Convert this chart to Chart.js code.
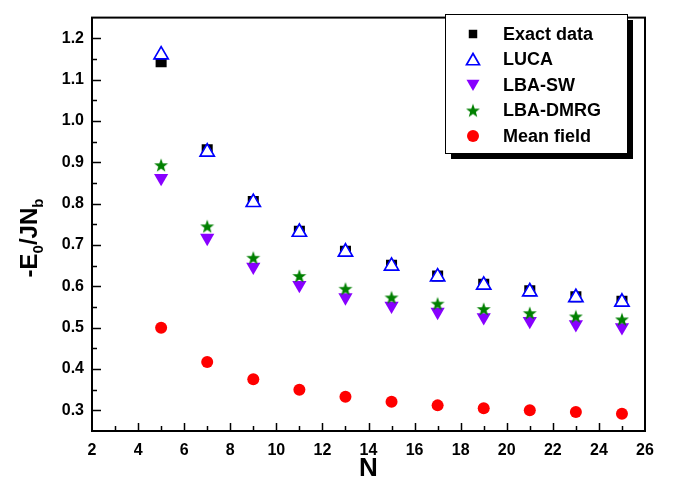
<!DOCTYPE html>
<html>
<head>
<meta charset="utf-8">
<script src="https://cdn.jsdelivr.net/npm/chart.js@4/dist/chart.umd.min.js"></script>
<style>
  html, body { margin: 0; padding: 0; background: #fff; }
  #wrap { width: 679px; height: 489px; }
</style>
</head>
<body>
<div id="wrap"><canvas id="c" width="679" height="489"></canvas></div>
<script>
const nValues = [5, 7, 9, 11, 13, 15, 17, 19, 21, 23, 25];
const exactData = [1.143, 0.930, 0.805, 0.733, 0.685, 0.651, 0.625, 0.605, 0.589, 0.575, 0.564];
const lucaData = [1.160, 0.925, 0.803, 0.731, 0.683, 0.649, 0.623, 0.603, 0.587, 0.573, 0.562];
const lbaSwData = [0.862, 0.717, 0.647, 0.603, 0.573, 0.553, 0.538, 0.525, 0.516, 0.508, 0.501];
const lbaDmrgData = [0.893, 0.745, 0.669, 0.625, 0.594, 0.573, 0.558, 0.545, 0.535, 0.527, 0.520];
const meanFieldData = [0.500, 0.417, 0.375, 0.350, 0.333, 0.321, 0.312, 0.305, 0.300, 0.296, 0.292];
const seriesNames = ["Exact data", "LUCA", "LBA-SW", "LBA-DMRG", "Mean field"];
const xTicks = [2, 4, 6, 8, 10, 12, 14, 16, 18, 20, 22, 24, 26];
const yTicks = [0.3, 0.4, 0.5, 0.6, 0.7, 0.8, 0.9, 1.0, 1.1, 1.2];

const FONT = "'Liberation Sans', Arial, sans-serif";

// filled five-point star, chart.js only has the line version
function makeStar(color) {
    const cv = document.createElement("canvas");
    cv.width = 16; cv.height = 16;
    const g = cv.getContext("2d");
    g.fillStyle = color;
    g.beginPath();
    for (let i = 0; i < 10; i++) {
        const r = i % 2 === 0 ? 7.3 : 3.0;
        const a = -Math.PI / 2 + i * Math.PI / 5;
        const px = 8 + r * Math.cos(a), py = 8.6 + r * Math.sin(a);
        if (i === 0) g.moveTo(px, py); else g.lineTo(px, py);
    }
    g.closePath();
    g.fill();
    return cv;
}
const starImg = makeStar("#008000");

function pts(ys) {
    return nValues.map((n, i) => ({ x: n, y: ys[i] }));
}

const datasets = [
    { label: seriesNames[0], data: pts(exactData), pointStyle: "rect", pointRadius: 7.8,
      backgroundColor: "#000", borderColor: "#000", borderWidth: 0, order: 5 },
    { label: seriesNames[1], data: pts(lucaData), pointStyle: "triangle", pointRadius: 8.2,
      backgroundColor: "#fff", borderColor: "#0000ff", borderWidth: 1.7, order: 4 },
    { label: seriesNames[2], data: pts(lbaSwData), pointStyle: "triangle", pointRadius: 8.2, rotation: 180,
      backgroundColor: "#8800ff", borderColor: "#8800ff", borderWidth: 0, order: 3 },
    { label: seriesNames[3], data: pts(lbaDmrgData), pointStyle: starImg, pointRadius: 8,
      backgroundColor: "#008000", borderColor: "#008000", order: 2 },
    { label: seriesNames[4], data: pts(meanFieldData), pointStyle: "circle", pointRadius: 6,
      backgroundColor: "#ff0000", borderColor: "#ff0000", borderWidth: 0, order: 1 }
];
datasets.forEach(d => { d.showLine = false; d.pointHoverRadius = d.pointRadius; });

const framePlugin = {
    id: "frame",
    afterDraw(chart) {
        const ctx = chart.ctx;
        const a = chart.chartArea;
        const xs = chart.scales.x, ys = chart.scales.y;
        ctx.save();
        ctx.strokeStyle = "#000";
        // inward ticks, bottom and left only
        ctx.lineWidth = 1.5;
        ctx.beginPath();
        for (let v = 3; v <= 25; v++) {
            const px = Math.round(xs.getPixelForValue(v)) + 0.5;
            const len = v % 2 === 0 ? 8 : 5;
            ctx.moveTo(px, a.bottom); ctx.lineTo(px, a.bottom - len);
        }
        for (let k = 6; k <= 24; k++) {
            const v = k * 0.05;
            const py = Math.round(ys.getPixelForValue(v)) + 0.5;
            const len = k % 2 === 0 ? 9 : 5;
            ctx.moveTo(a.left, py); ctx.lineTo(a.left + len, py);
        }
        ctx.stroke();
        ctx.lineWidth = 2;
        ctx.strokeRect(a.left, a.top, a.right - a.left, a.bottom - a.top);

        // legend with drop shadow
        const bx = 445, by = 14, bw = 182, bh = 139;
        ctx.fillStyle = "#000";
        ctx.fillRect(bx + 6, by + 6, bw, bh);
        ctx.fillStyle = "#fff";
        ctx.fillRect(bx, by, bw, bh);
        ctx.lineWidth = 1;
        ctx.strokeRect(bx + 0.5, by + 0.5, bw, bh);
        ctx.font = "bold 18px " + FONT;
        ctx.textBaseline = "middle";
        ctx.textAlign = "left";
        const rows = [34, 59.5, 85, 110.5, 136];
        chart.data.datasets.forEach((d, i) => {
            const opts = {
                pointStyle: d.pointStyle,
                radius: d.pointStyle === "rect" ? 6 : (d.pointStyle === "triangle" ? 7.5 : d.pointRadius),
                rotation: d.rotation || 0,
                borderWidth: d.borderWidth
            };
            ctx.fillStyle = d.backgroundColor;
            ctx.strokeStyle = d.borderColor;
            ctx.lineWidth = d.borderWidth || 1;
            const yOff = d.rotation ? -1.5 : (d.pointStyle === "triangle" ? 1.5 : 0);
            Chart.helpers.drawPoint(ctx, opts, 473, rows[i] + yOff);
            ctx.fillStyle = "#000";
            ctx.fillText(d.label, 503, rows[i] + 1);
        });

        // axis titles
        ctx.fillStyle = "#000";
        ctx.textAlign = "center";
        ctx.textBaseline = "alphabetic";
        ctx.font = "bold 26px " + FONT;
        ctx.fillText("N", (a.left + a.right) / 2, 476);

        ctx.translate(37, 238);
        ctx.rotate(-Math.PI / 2);
        const big = "bold 24px " + FONT, small = "bold 15px " + FONT;
        const parts = [["-E", big, 0], ["0", small, 6], ["/JN", big, 0], ["b", small, 6]];
        let total = 0;
        parts.forEach(p => { ctx.font = p[1]; total += ctx.measureText(p[0]).width; });
        let cx = -total / 2;
        ctx.textAlign = "left";
        parts.forEach(p => {
            ctx.font = p[1];
            ctx.fillText(p[0], cx, p[2]);
            cx += ctx.measureText(p[0]).width;
        });
        ctx.restore();
    }
};

new Chart(document.getElementById("c"), {
    type: "scatter",
    data: { datasets },
    options: {
        responsive: false,
        animation: false,
        layout: { padding: { left: 0, right: 34, top: 10, bottom: 0 } },
        plugins: { legend: { display: false }, tooltip: { enabled: false } },
        scales: {
            x: {
                type: "linear", min: 2, max: 26,
                grid: { display: false, drawTicks: false },
                border: { display: false },
                afterBuildTicks: s => { s.ticks = xTicks.map(v => ({ value: v })); },
                afterFit: s => { s.height = 58; },
                ticks: { color: "#000", padding: 10, maxRotation: 0, autoSkip: false,
                         font: { family: FONT, size: 16, weight: "bold" } }
            },
            y: {
                type: "linear", min: 0.25, max: 1.25,
                grid: { display: false, drawTicks: false },
                border: { display: false },
                afterBuildTicks: s => { s.ticks = yTicks.map(v => ({ value: v })); },
                afterFit: s => { s.width = 92; },
                ticks: { color: "#000", padding: 8, autoSkip: false,
                         callback: v => v.toFixed(1),
                         font: { family: FONT, size: 16, weight: "bold" } }
            }
        }
    },
    plugins: [framePlugin]
});
</script>
</body>
</html>
